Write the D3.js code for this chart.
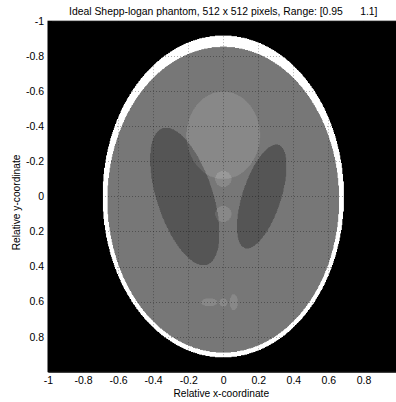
<!DOCTYPE html>
<html>
<head>
<meta charset="utf-8">
<script src="https://cdn.jsdelivr.net/npm/d3@7"></script>
<style>
  body { margin: 0; background: #fff; }
  svg text { font-family: "Liberation Sans", Arial, Helvetica, sans-serif; fill: #000; }
</style>
</head>
<body>
<svg id="chart" width="396" height="402"></svg>
<script>
// Shepp-Logan ellipses: intensity, semi-axes, centre, rotation (degrees)
const ellipseIntensity = [2, -0.98, -0.02, -0.02, 0.01, 0.01, 0.01, 0.01, 0.01, 0.01];
const ellipseSemiX     = [0.69, 0.6624, 0.11, 0.16, 0.21, 0.046, 0.046, 0.046, 0.023, 0.023];
const ellipseSemiY     = [0.92, 0.874, 0.31, 0.41, 0.25, 0.046, 0.046, 0.023, 0.023, 0.046];
const ellipseCenterX   = [0, 0, 0.22, -0.22, 0, 0, 0, -0.08, 0, 0.06];
const ellipseCenterY   = [0, -0.0184, 0, 0, 0.35, 0.1, -0.1, -0.605, -0.606, -0.605];
const ellipseAngle     = [0, 0, -18, 18, 0, 0, 0, 0, 0, 0];

const imageSize = 512;
const displayRange = [0.95, 1.1];

const xTicks = [-1, -0.8, -0.6, -0.4, -0.2, 0, 0.2, 0.4, 0.6, 0.8];
const yTicks = [-1, -0.8, -0.6, -0.4, -0.2, 0, 0.2, 0.4, 0.6, 0.8];

const titleText = "Ideal Shepp-logan phantom, " + imageSize + " x " + imageSize +
  " pixels, Range: [" + displayRange[0] + "      " + displayRange[1] + "]";

const svg = d3.select("#chart");
const W = 396, H = 402;
svg.append("rect").attr("width", W).attr("height", H).attr("fill", "#fff");

const x = d3.scaleLinear().domain([-1, 1]).range([48, 398.5]);
const y = d3.scaleLinear().domain([-1, 1]).range([21.2, 371.7]);

// Rasterise the phantom: each pixel sums the intensities of the ellipses covering it
const coord = d3.scaleLinear().domain([0, imageSize - 1]).range([-1, 1]);
const gray = d3.scaleLinear().domain(displayRange).range([0, 255]).clamp(true);
const canvas = document.createElement("canvas");
canvas.width = imageSize; canvas.height = imageSize;
const ctx = canvas.getContext("2d");
const img = ctx.createImageData(imageSize, imageSize);
const ell = ellipseIntensity.map((v, k) => {
  const phi = ellipseAngle[k] * Math.PI / 180;
  return { v, a: ellipseSemiX[k], b: ellipseSemiY[k], x0: ellipseCenterX[k], y0: ellipseCenterY[k],
           c: Math.cos(phi), s: Math.sin(phi) };
});
for (let i = 0; i < imageSize; i++) {
  const ym = -coord(i);           // rows run top to bottom, phantom y runs upward
  for (let j = 0; j < imageSize; j++) {
    const xm = coord(j);
    let val = 0;
    for (const e of ell) {
      const dx = xm - e.x0, dy = ym - e.y0;
      const u = dx * e.c + dy * e.s;
      const w = -dx * e.s + dy * e.c;
      if ((u * u) / (e.a * e.a) + (w * w) / (e.b * e.b) <= 1) val += e.v;
    }
    const g = Math.round(gray(val));
    const p = (i * imageSize + j) * 4;
    img.data[p] = g; img.data[p + 1] = g; img.data[p + 2] = g; img.data[p + 3] = 255;
  }
}
ctx.putImageData(img, 0, 0);

const plotW = x(1) - x(-1), plotH = y(1) - y(-1);

svg.append("image")
  .attr("href", canvas.toDataURL())
  .attr("x", x(-1)).attr("y", y(-1))
  .attr("width", plotW).attr("height", plotH)
  .attr("preserveAspectRatio", "none");

// Dotted grid at every tick
const grid = svg.append("g")
  .attr("stroke", "#000").attr("stroke-opacity", 0.32)
  .attr("stroke-width", 1).attr("stroke-dasharray", "1,2");
grid.selectAll("line.gx").data(xTicks.filter(d => d > -1)).join("line")
  .attr("class", "gx")
  .attr("x1", d => Math.round(x(d)) + 0.5).attr("x2", d => Math.round(x(d)) + 0.5)
  .attr("y1", y(-1)).attr("y2", y(1));
grid.selectAll("line.gy").data(yTicks.filter(d => d > -1)).join("line")
  .attr("class", "gy")
  .attr("y1", d => Math.round(y(d)) + 0.5).attr("y2", d => Math.round(y(d)) + 0.5)
  .attr("x1", x(-1)).attr("x2", x(1));

// Axes with ticks pointing inward
const fmt = d => String(d);
const xAxis = svg.append("g")
  .attr("transform", `translate(0,${y(1)})`)
  .call(d3.axisBottom(x).tickValues(xTicks).tickFormat(fmt).tickSize(-4).tickSizeOuter(0).tickPadding(5));
const yAxis = svg.append("g")
  .attr("transform", `translate(${x(-1)},0)`)
  .call(d3.axisLeft(y).tickValues(yTicks).tickFormat(fmt).tickSize(-4).tickSizeOuter(0).tickPadding(4));
[xAxis, yAxis].forEach(g => {
  g.attr("font-size", 10.5).attr("font-family", null);
  g.selectAll("line").attr("stroke", "#000");
  g.select(".domain").attr("stroke", "#000");
});

// Box outline
svg.append("rect")
  .attr("x", x(-1)).attr("y", y(-1)).attr("width", plotW).attr("height", plotH)
  .attr("fill", "none").attr("stroke", "#000").attr("stroke-width", 1);

// Title and axis labels
svg.append("text")
  .attr("x", (x(-1) + x(1)) / 2).attr("y", 15)
  .attr("text-anchor", "middle").attr("font-size", 10.4)
  .style("white-space", "pre")
  .text(titleText);

svg.append("text")
  .attr("x", (x(-1) + x(1)) / 2 - 2).attr("y", 397)
  .attr("text-anchor", "middle").attr("font-size", 10.2)
  .text("Relative x-coordinate");

svg.append("text")
  .attr("transform", `translate(20,${(y(-1) + y(1)) / 2 + 6}) rotate(-90)`)
  .attr("text-anchor", "middle").attr("font-size", 10.2)
  .text("Relative y-coordinate");
</script>
</body>
</html>
